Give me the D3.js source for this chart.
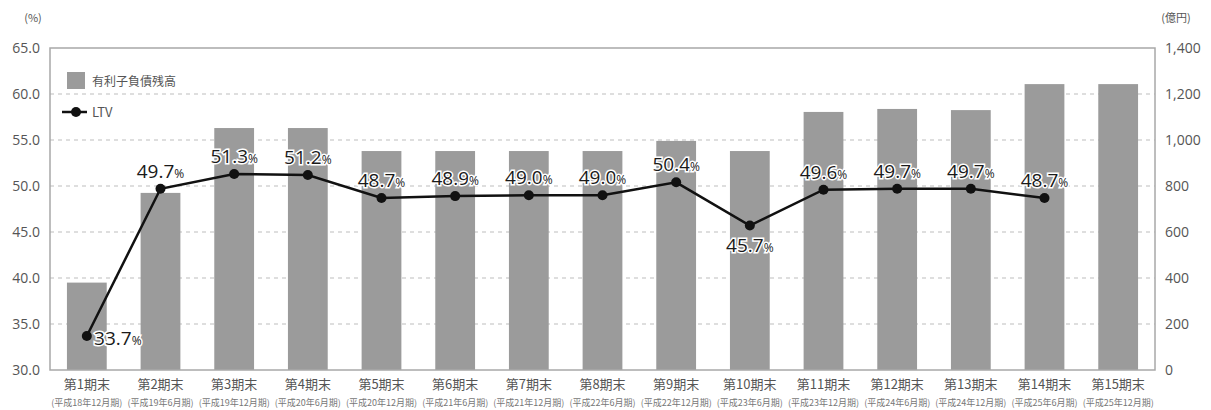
<!DOCTYPE html>
<html>
<head>
<meta charset="utf-8">
<script src="https://cdn.jsdelivr.net/npm/d3@7"></script>
<style>
body { margin: 0; background: #fff; }
text { font-family: "Noto Sans CJK JP", "Noto Sans", sans-serif; }
</style>
</head>
<body>
<div id="chart"></div>
<script>
var periods = ["第1期末", "第2期末", "第3期末", "第4期末", "第5期末", "第6期末", "第7期末", "第8期末",
	"第9期末", "第10期末", "第11期末", "第12期末", "第13期末", "第14期末", "第15期末"];
var periodDates = ["(平成18年12月期)", "(平成19年6月期)", "(平成19年12月期)", "(平成20年6月期)",
	"(平成20年12月期)", "(平成21年6月期)", "(平成21年12月期)", "(平成22年6月期)", "(平成22年12月期)",
	"(平成23年6月期)", "(平成23年12月期)", "(平成24年6月期)", "(平成24年12月期)", "(平成25年6月期)",
	"(平成25年12月期)"];
var debt = [380, 770, 1052, 1052, 952, 952, 952, 952, 996, 952, 1122, 1135, 1130, 1243, 1243];
var ltv = [33.7, 49.7, 51.3, 51.2, 48.7, 48.9, 49.0, 49.0, 50.4, 45.7, 49.6, 49.7, 49.7, 48.7, null];
var leftTicks = [30, 35, 40, 45, 50, 55, 60, 65];
var rightTicks = [0, 200, 400, 600, 800, 1000, 1200, 1400];

var width = 1211, height = 410;
var margin = {top: 48, right: 56, bottom: 40, left: 50};
var innerW = width - margin.left - margin.right;
var innerH = height - margin.top - margin.bottom;

var svg = d3.select("#chart").append("svg")
	.attr("width", width)
	.attr("height", height);

var g = svg.append("g")
	.attr("transform", "translate(" + margin.left + "," + margin.top + ")");

var x = d3.scaleBand().domain(periods).range([0, innerW]).paddingInner(0.46).paddingOuter(0.23);
var yL = d3.scaleLinear().domain([30, 65]).range([innerH, 0]);
var yR = d3.scaleLinear().domain([0, 1400]).range([innerH, 0]);

// gridlines
g.append("g")
	.selectAll("line")
	.data(leftTicks.slice(1, -1))
	.enter().append("line")
	.attr("x1", 0)
	.attr("x2", innerW)
	.attr("y1", function(d) { return yL(d); })
	.attr("y2", function(d) { return yL(d); })
	.attr("stroke", "#bdbdbd")
	.attr("stroke-width", 1)
	.attr("stroke-dasharray", "4,4");

// bars
g.append("g")
	.selectAll("rect")
	.data(debt)
	.enter().append("rect")
	.attr("x", function(d, i) { return x(periods[i]); })
	.attr("y", function(d) { return yR(d); })
	.attr("width", x.bandwidth())
	.attr("height", function(d) { return innerH - yR(d); })
	.attr("fill", "#9b9b9b");

// frame
g.append("rect")
	.attr("width", innerW)
	.attr("height", innerH)
	.attr("fill", "none")
	.attr("stroke", "#a8a8a8")
	.attr("stroke-width", 1.5);

// axes
var axisL = g.append("g").call(d3.axisLeft(yL).tickValues(leftTicks).tickSize(0).tickPadding(10).tickFormat(d3.format(".1f")));
var axisR = g.append("g").attr("transform", "translate(" + innerW + ",0)")
	.call(d3.axisRight(yR).tickValues(rightTicks).tickSize(0).tickPadding(10).tickFormat(d3.format(",")));
[axisL, axisR].forEach(function(a) {
	a.select(".domain").remove();
	a.selectAll("text").attr("fill", "#555").style("font-size", "14px")
		.style("font-family", "'Open Sans', 'Noto Sans', sans-serif");
});

// x labels
var xl = g.append("g").attr("transform", "translate(0," + innerH + ")");
xl.selectAll(".per")
	.data(periods)
	.enter().append("text")
	.attr("x", function(d) { return x(d) + x.bandwidth() / 2; })
	.attr("y", 19)
	.attr("text-anchor", "middle")
	.attr("fill", "#555")
	.style("font-size", "13px")
	.text(function(d) { return d; });
xl.selectAll(".date")
	.data(periodDates)
	.enter().append("text")
	.attr("x", function(d, i) { return x(periods[i]) + x.bandwidth() / 2; })
	.attr("y", 36)
	.attr("text-anchor", "middle")
	.attr("fill", "#777")
	.style("font-size", "9px")
	.text(function(d) { return d; });

// unit labels
svg.append("text").attr("x", 33).attr("y", 22).attr("text-anchor", "middle")
	.attr("fill", "#555").style("font-size", "11px").text("(%)");
svg.append("text").attr("x", 1176).attr("y", 22).attr("text-anchor", "middle")
	.attr("fill", "#555").style("font-size", "11px").text("(億円)");

// LTV line
var pts = ltv.map(function(v, i) { return {v: v, p: periods[i]}; }).filter(function(d) { return d.v !== null; });
var line = d3.line()
	.x(function(d) { return x(d.p) + x.bandwidth() / 2; })
	.y(function(d) { return yL(d.v); });
g.append("path")
	.datum(pts)
	.attr("d", line)
	.attr("fill", "none")
	.attr("stroke", "#111")
	.attr("stroke-width", 2.5);
g.append("g")
	.selectAll("circle")
	.data(pts)
	.enter().append("circle")
	.attr("cx", function(d) { return x(d.p) + x.bandwidth() / 2; })
	.attr("cy", function(d) { return yL(d.v); })
	.attr("r", 5)
	.attr("fill", "#111");

// LTV labels
var lab = g.append("g")
	.selectAll("text")
	.data(pts)
	.enter().append("text")
	.attr("x", function(d, i) {
		var cx = x(d.p) + x.bandwidth() / 2;
		return i === 0 ? cx + 31 : cx;
	})
	.attr("y", function(d, i) {
		var cy = yL(d.v);
		if(i === 0) return cy + 9;
		if(d.p === "第10期末") return cy + 26;
		return cy - 11;
	})
	.attr("text-anchor", "middle")
	.attr("fill", "#1a1a1a")
	.attr("stroke", "#fff")
	.attr("stroke-width", 3)
	.attr("paint-order", "stroke")
	.style("font-family", "'Open Sans', 'Noto Sans', sans-serif")
	.style("font-size", "19px");
lab.append("tspan").text(function(d) { return d.v.toFixed(1); });
lab.append("tspan").style("font-size", "12px").text("%");

// legend
var leg = g.append("g").attr("transform", "translate(17,24)");
leg.append("rect").attr("x", 0).attr("y", 0).attr("width", 18).attr("height", 17).attr("fill", "#9b9b9b");
leg.append("text").attr("x", 25).attr("y", 14).attr("fill", "#555").style("font-size", "12px").text("有利子負債残高");
leg.append("line").attr("x1", -5).attr("x2", 20).attr("y1", 40).attr("y2", 40).attr("stroke", "#111").attr("stroke-width", 2.5);
leg.append("circle").attr("cx", 9).attr("cy", 40).attr("r", 5).attr("fill", "#111");
leg.append("text").attr("x", 25).attr("y", 45).attr("fill", "#555").style("font-size", "13px").text("LTV");
</script>
</body>
</html>
